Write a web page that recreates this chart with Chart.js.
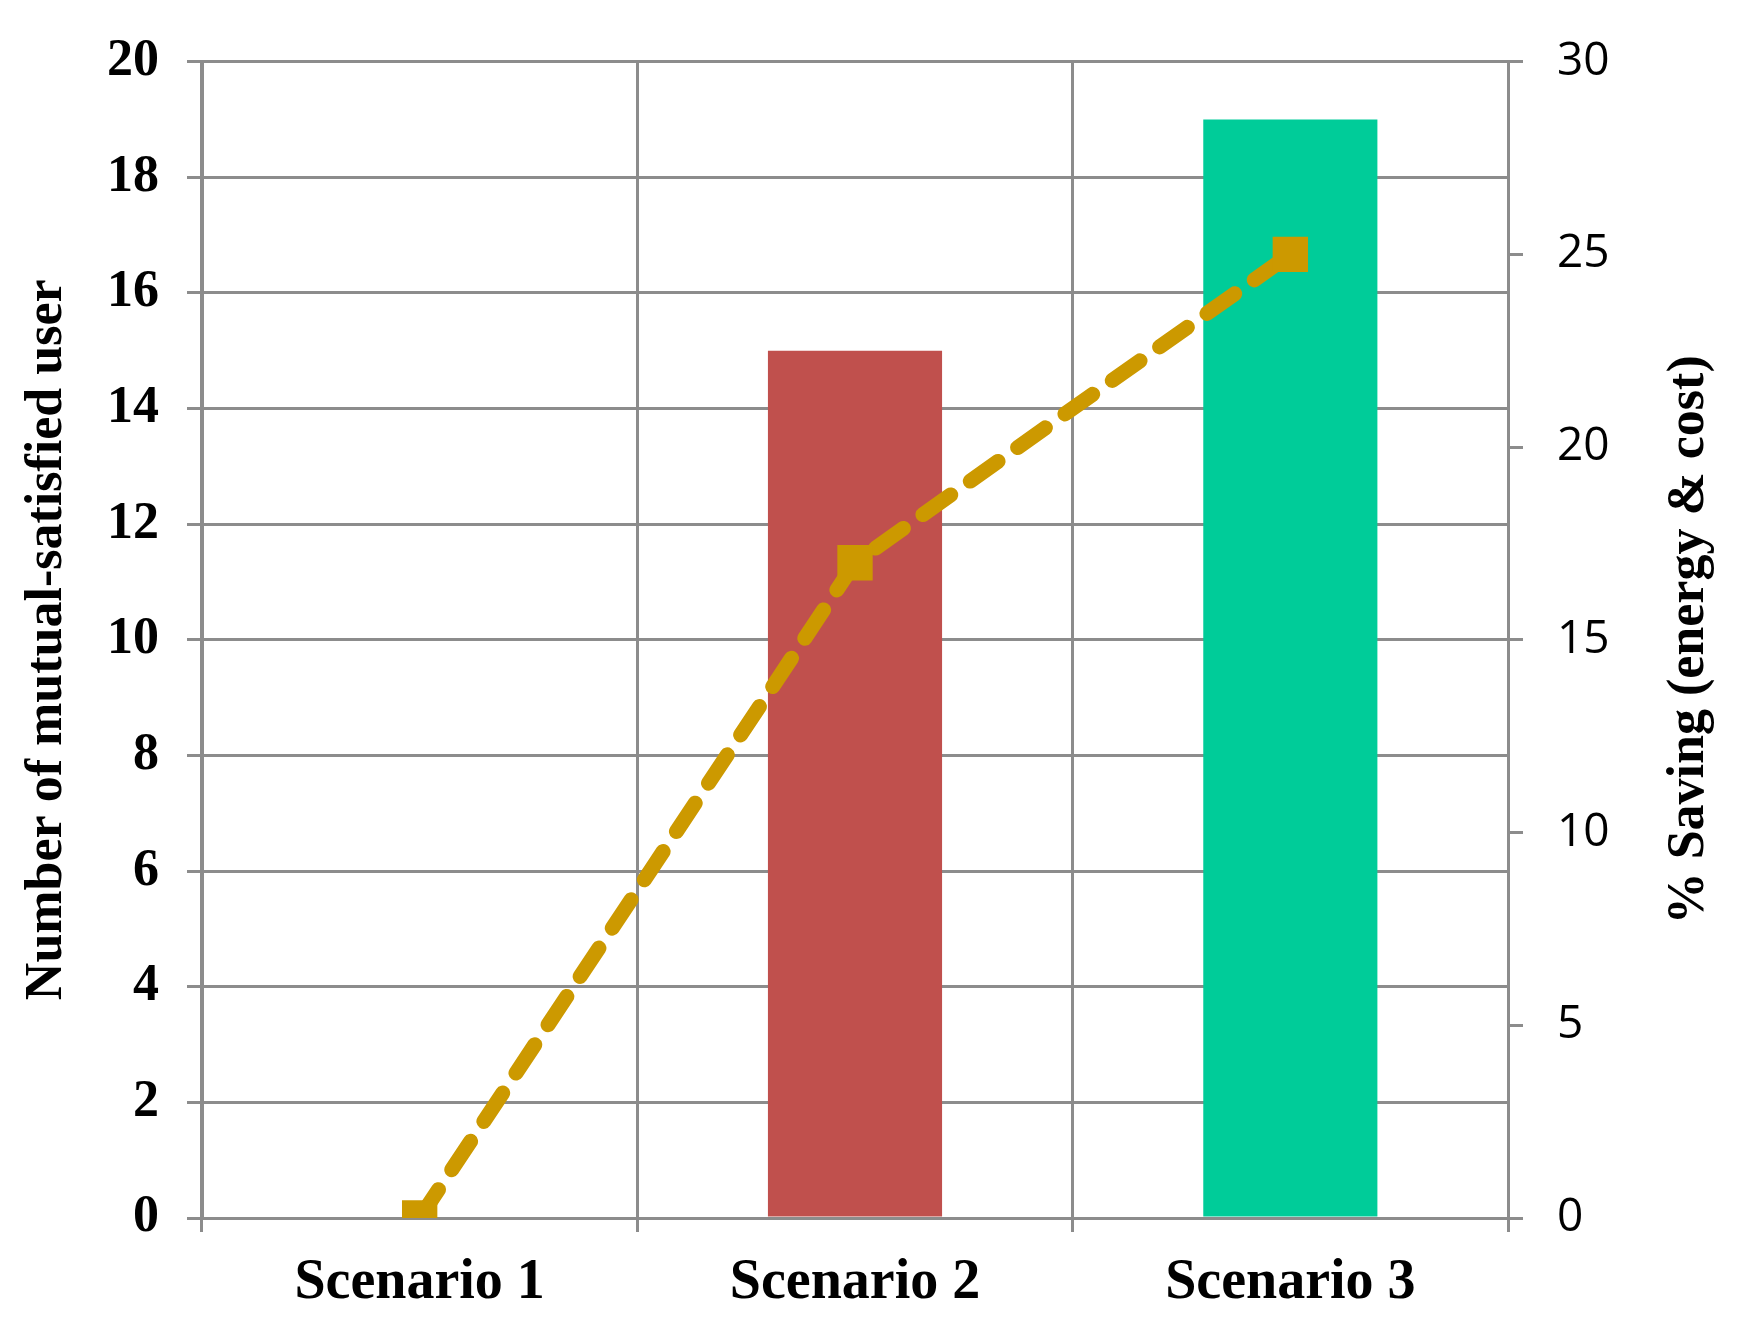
<!DOCTYPE html>
<html>
<head>
<meta charset="utf-8">
<script src="https://cdn.jsdelivr.net/npm/chart.js@4"></script>
<style>
  html, body { margin: 0; padding: 0; background: #ffffff; }
  canvas { display: block; }
</style>
</head>
<body>
<canvas id="chart" width="1742" height="1330"></canvas>
<script>
const categories = ['Scenario 1', 'Scenario 2', 'Scenario 3'];
const satisfiedUsers = [0, 15, 19];
const savingPercent = [0, 17, 25];
const barColors = ['#c0504d', '#c0504d', '#00cc99'];
const rightTitle = '% Saving (energy & cost)';

const gridColor = '#8c8c8c';
const serif = '"Liberation Serif", "Times New Roman", serif';
const sans = '"Open Sans", "Noto Sans", sans-serif';

// right axis title reads bottom-to-top, so draw it ourselves
const rightTitlePlugin = {
    id: 'rightTitle',
    afterDraw(chart) {
        const { ctx, chartArea } = chart;
        ctx.save();
        ctx.translate(1690, (chartArea.top + chartArea.bottom) / 2);
        ctx.rotate(-Math.PI / 2);
        ctx.font = 'bold 52px ' + serif;
        ctx.fillStyle = '#000';
        ctx.textAlign = 'center';
        ctx.textBaseline = 'middle';
        ctx.fillText(rightTitle, 0, 0);
        ctx.restore();
    }
};

new Chart(document.getElementById('chart').getContext('2d'), {
    type: 'bar',
    data: {
        labels: categories,
        datasets: [{
            type: 'line',
            label: '% Saving',
            data: savingPercent,
            yAxisID: 'y1',
            borderColor: '#cc9900',
            backgroundColor: '#cc9900',
            borderWidth: 15,
            borderDash: [34, 24],
            borderCapStyle: 'round',
            pointStyle: 'rect',
            pointRadius: 25,
            pointBorderWidth: 0,
            tension: 0,
            order: 0
        }, {
            label: 'Users',
            data: satisfiedUsers,
            yAxisID: 'y',
            backgroundColor: barColors,
            barPercentage: 0.4,
            categoryPercentage: 1,
            order: 1
        }]
    },
    options: {
        responsive: false,
        devicePixelRatio: 1,
        animation: false,
        layout: { padding: { top: 28, left: 16, right: 0, bottom: 0 } },
        plugins: { legend: { display: false }, tooltip: { enabled: false } },
        scales: {
            x: {
                offset: true,
                grid: { color: gridColor, lineWidth: 3, offset: true, tickLength: 14 },
                border: { color: gridColor, width: 3 },
                ticks: { color: '#000', padding: 18, font: { family: serif, size: 56, weight: 'bold' } },
                afterFit: (s) => { s.height = 112; }
            },
            y: {
                position: 'left',
                min: 0, max: 20,
                ticks: { stepSize: 2, color: '#000', padding: 28, font: { family: serif, size: 52, weight: 'bold' } },
                grid: { color: gridColor, lineWidth: 3, tickLength: 15 },
                border: { color: gridColor, width: 3 },
                title: {
                    display: true, text: 'Number of mutual-satisfied user', color: '#000',
                    font: { family: serif, size: 52, weight: 'bold' }, padding: 0
                },
                afterFit: (s) => { s.width = 186; }
            },
            y1: {
                position: 'right',
                min: 0, max: 30,
                ticks: { stepSize: 5, color: '#000', padding: 34, font: { family: sans, size: 46 } },
                grid: { drawOnChartArea: false, color: gridColor, lineWidth: 3, tickLength: 15 },
                border: { color: gridColor, width: 3 },
                afterFit: (s) => { s.width = 234; }
            }
        }
    },
    plugins: [rightTitlePlugin]
});
</script>
</body>
</html>
